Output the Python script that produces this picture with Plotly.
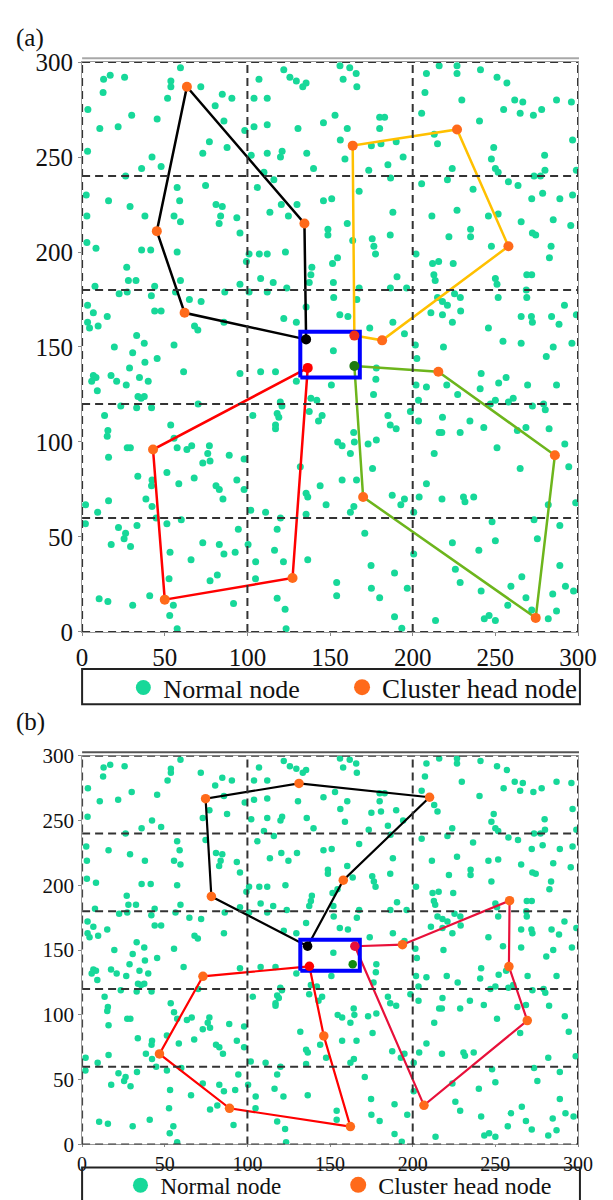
import plotly.graph_objects as go

# ---------------- data ----------------
node_x = [
59.5,53.7,53.7,51.7,13,17,25.7,12.7,3.5,30,10.7,21.8,45.4,71.8,84.8,90.6,80.5,85.8,107,104,112,122,125.7,129.6,133.5,135.5,
98.4,104,112,130.6,77,73,87.7,42.3,47.8,36,26.3,3.3,102.3,112,121,120,135.9,140,110,116,74.7,57.5,106,2.5,16,59,29,38,81,84.8,
83.8,82.9,93.6,55.6,59.5,113.6,120.5,130,124.8,2.9,95.5,2.9,8.4,36,41.5,57.5,101,99.4,107.2,112,123,139,27,28,32.6,43.9,41.9,
7.8,22.4,27.3,59.5,64.9,72,56.5,86.3,95.5,108,115.6,112,123.8,101,137.4,138.4,135.5,3.3,6.8,15.2,43.9,47.8,3.3,4.5,9.7,68,70,
85.8,122,129.6,33,
156,161.9,165.8,157.9,166.2,208.3,207.4,216,226.8,226.8,241,251,257,229.7,261.7,266.6,255,265,273,278,287,296,205.4,240.4,153,146,
180,183,180,160.4,156.2,213,215,175,180.8,190,249,247.6,250,251.7,296.7,279.8,159,185,194.2,173.4,186.6,223.9,221,205.4,236.5,
257.9,263.7,273.4,277.3,280,299,167.6,151,146,272,278.6,289,296.7,188,226.8,211.6,245.8,265.6,251.7,285,295.6,160.4,148.7,148.7,
186.4,175.5,176.5,177.5,163.7,221.9,235,235,247.6,272.4,274.4,283.7,282.7,202,151.5,154.5,212,215.7,224.5,212.8,213.6,190.5,196.3,
152,186.5,167.6,166.2,250,251,251.7,272,269,268.7,269,291.8,152.2,215,218,221,225.3,228.8,229,211,218,224,245.8,265.6,271.8,272.4,
284,288.5,299,155.9,160.8,174,188,195,265.6,
19.5,55.6,30.6,37.6,45.4,38,28.7,6.8,8.4,5.8,9.2,17.5,20.9,26.7,34.7,40,33.8,37.6,35.7,61.4,33,42,23.4,70.2,13.6,53.6,15.6,15.2,
55.6,57.5,63.4,66.3,77,76,89,98,73,77.4,16,27.3,29.2,33.7,51.3,42.3,42,67.8,58.5,81,83,85.2,93.6,98,2.1,16,9.4,38.6,42.3,44.8,
51.3,60,102,111,120,2,22,26.3,33.2,94.5,118,17.6,25.4,29.3,73,83,85.8,92.6,100.4,53.2,65.9,105,116.4,121.8,136.5,52.6,77.4,81.8,
104.9,10.3,15.6,30.6,40.9,55.2,53,91.6,118,122.8,57.5,123.4,132,135.5,136.5,135.5,144,129.6,95.5,108,117,119.9,120.9,118,119,117,
117,103.3,138.4,142,137.4,143,
152,150.8,178,177.7,176.3,201.6,202.5,218.6,254.6,285,280.8,296.3,202,208.3,203.5,220.6,227.2,241.4,240.8,256.5,252,269.5,287,250,
247,257.9,260.8,272.4,279.2,280.2,145.2,185,198.6,203.5,218,186.4,190,234.6,243,216,217.6,228.7,263.3,268.5,282.5,164.3,154.6,157.3,
164.7,173,178,162.3,213,251,292,265,294.4,175.7,157.3,166,208.3,187.6,192.8,195,203.9,217.7,230.7,231.6,236.9,282,298.6,147.6,164.4,
162.3,200.6,248,273.4,289,171,224,250,240,275.4,200.6,174.8,225.8,289,189,266,228.7,259.4,154,154,175,180,196.7,241.4,268.5,284.7,
292.4,297.3,257.5,287,282,189,193.4,213.8,243.3,246.2,250,272,
]
node_y = [
297,290,287,281,291,293,292,284,275,272,265,266,270,287,283,281,277,269,291,281,281,296,292,290,287,289,
264,266,267,265,258,252,255,250,245,244,240,253,251,252,253,250,252,244,242,238,235,234,234,230,227,227,224,219,225,224,
219,215,218,219,216,221,225,225,219,219,210,205,202,201,201,200,199,195,199,199,200,192,192,185,185,182,177,
182,178,179,185,175,174,179,179,183,186,184,179,181,179,184,188,171,172,168,166,169,169,163,160,161,161,159,
163,165,163,156,
298,297,294,291,287,294,284,298,298,294,296,292,289,280,280,279,275,273,272,275,280,279,273,269,272,268,
271,271,265,265,259,262,257,256,257,258,255,249,244,242,259,251,249,246,250,243,239,244,238,236,233,
237,235,240,240,243,243,232,228,227,228,231,228,230,221,222,219,219,216,220,217,214,215,212,209,
209,207,203,199,206,208,212,208,203,210,209,203,197,199,194,197,194,195,194,188,185,187,181,
184,181,181,175,186,183,176,188,188,180,176,172,176,176,174,172,178,176,169,168,167,163,160,166,166,163,
166,162,167,167,166,160,163,157,152,
150,151,147,152,144,142,139,135,134,132,127,135,132,130,134,132,124,124,123,137,118,118,119,120,114,109,106,103,
102,97,96,98,98,94,93,91,89,90,92,97,97,82,84,80,77,81,78,77,75,70,80,75,67,69,63,70,66,60,
57,59,64,63,60,57,55,52,56,54,54,46,49,45,47,46,41,42,46,42,38,37,43,37,38,28,27,30,
28,17.5,16,14,19,14,8.6,15,17.7,12,1.7,1.7,87,73,71,62,77,132,136,137,137,121,119,115,113,109,
107,114,123,122,116,111,
148,130,139,133,125,151,144,150,153,150,145,152,130,129,122,130,125,136,128,134,131,130,130,122,
120,121,123,119,120,117,114,114,116,111,113,109,107,111,107.6,105,105,105,106,107.6,107,105,100,98,
100,99,101,94,94,97,99,86,87,86,80,80,78,72,67,70,71,70,71,68.5,71,67,68,67,66,
63,63,58,59,56,52,47,48,43,49,41,35,33,35,31,29,26,24,26,19,23,18,23,21.5,18,20,
24,21.5,14,11,7,8,2,6,7,8.6,6,11.5,
]

# panel (a) clusters: first vertex is the gateway node at the centre box
a_black_x = [135.5, 62, 45.2, 63.4, 134.5]
a_black_y = [154, 168, 211, 287, 215]
a_red_x = [136.5, 42.9, 50, 127.3]
a_red_y = [139, 96, 17, 28.4]
a_yellow_x = [164.7, 181.5, 257.9, 226.8, 163.7]
a_yellow_y = [156, 153.5, 203, 264.5, 256]
a_green_x = [164.7, 215.5, 286, 274.4, 170]
a_green_y = [140, 137, 93, 7.4, 71]

# panel (b) clusters
b_black_x = [136.4, 78.2, 74.7, 131.2, 210.2, 158]
b_black_y = [153, 191.4, 266.9, 278.7, 268, 204]
b_redl_x = [137.5, 73.1, 46.8, 89.2, 162.3, 146.2]
b_redl_y = [137.5, 129.8, 69.9, 27.9, 13.8, 83.8]
b_redr_x = [165, 193.8, 258.6, 258.2, 269.3, 206.8]
b_redr_y = [153, 154.2, 188.2, 137.3, 95.6, 30.2]
b_extra_x = [163.7]
b_extra_y = [139]

box_x = [132, 168, 168, 132, 132]
box_y = [134, 134, 158, 158, 134]

x_ticks = [0, 50, 100, 150, 200, 250, 300]
y_ticks = [0, 50, 100, 150, 200, 250, 300]
x_grid = [0, 100, 200, 300]
y_grid = [0, 60, 120, 180, 240, 300]
legend_labels = ['Normal node', 'Cluster head node']

TEAL = '#17D899'
ORANGE = '#FF6A1A'
FONT = "'Liberation Serif', 'Times New Roman', Times, 'DejaVu Serif', serif"

fig = go.Figure()

def add_panel(xa, ya, node_size, clusters, extra, legs, lw):
    fig.add_trace(go.Scatter(x=node_x, y=node_y, mode='markers', xaxis=xa, yaxis=ya,
                             marker=dict(color=TEAL, size=node_size, line=dict(width=0)),
                             showlegend=False, hoverinfo='skip'))
    for cx, cy, lc, gc in clusters:
        fig.add_trace(go.Scatter(x=cx + [cx[0]], y=cy + [cy[0]], mode='lines', xaxis=xa, yaxis=ya,
                                 line=dict(color=lc, width=lw), showlegend=False, hoverinfo='skip'))
    fig.add_trace(go.Scatter(x=box_x, y=box_y, mode='lines', xaxis=xa, yaxis=ya,
                             line=dict(color='#0000FF', width=4), showlegend=False, hoverinfo='skip'))
    for cx, cy, lc, gc in clusters:
        fig.add_trace(go.Scatter(x=cx[1:], y=cy[1:], mode='markers', xaxis=xa, yaxis=ya,
                                 marker=dict(color=ORANGE, size=node_size + 3), showlegend=False))
        fig.add_trace(go.Scatter(x=cx[:1], y=cy[:1], mode='markers', xaxis=xa, yaxis=ya,
                                 marker=dict(color=gc, size=node_size + 3), showlegend=False))
    if extra is not None:
        fig.add_trace(go.Scatter(x=extra[0], y=extra[1], mode='markers', xaxis=xa, yaxis=ya,
                                 marker=dict(color='#108A10', size=node_size + 2), showlegend=False))
    fig.add_trace(go.Scatter(x=[None], y=[None], mode='markers', xaxis=xa, yaxis=ya,
                             marker=dict(color=TEAL, size=15), name=legend_labels[0], legend=legs[0]))
    fig.add_trace(go.Scatter(x=[None], y=[None], mode='markers', xaxis=xa, yaxis=ya,
                             marker=dict(color=ORANGE, size=16), name=legend_labels[1], legend=legs[1]))

add_panel('x', 'y', 7,
          [(a_black_x, a_black_y, '#000000', '#000000'),
           (a_red_x, a_red_y, '#FF0000', '#FF0000'),
           (a_yellow_x, a_yellow_y, '#FFC000', '#F0301A'),
           (a_green_x, a_green_y, '#6DB51C', '#1E7A10')],
          None, ('legend', 'legend3'), 2.5)
add_panel('x2', 'y2', 6.5,
          [(b_black_x, b_black_y, '#000000', '#000000'),
           (b_redl_x, b_redl_y, '#FF0000', '#FF0000'),
           (b_redr_x, b_redr_y, '#E8103A', '#E8103A')],
          (b_extra_x, b_extra_y), ('legend2', 'legend4'), 2.2)

W, H = 613, 1200
xdom = [71 / W, 588 / W]
ydom_a = [1 - 625 / H, 1 - 42 / H]
ydom_b = [1 - 1149.3 / H, 1 - 751.7 / H]

def axis(dom, anchor, size, tl):
    return dict(domain=dom, anchor=anchor, range=[0, 300], tickvals=x_ticks, showgrid=False,
                zeroline=False, showline=True, linecolor='#9a9a9a', linewidth=1, mirror=True,
                ticks='outside', ticklen=tl, tickcolor='#888',
                tickfont=dict(family=FONT, size=size, color='#111'))

shapes = []
for xr, yr in (('x', 'y'), ('x2', 'y2')):
    for g in x_grid:
        shapes.append(dict(type='line', xref=xr, yref=yr, x0=g, x1=g, y0=0, y1=300,
                           line=dict(color='#333', width=2, dash='8px,5px')))
    for g in y_grid:
        shapes.append(dict(type='line', xref=xr, yref=yr, x0=0, x1=300, y0=g, y1=g,
                           line=dict(color='#333', width=2, dash='8px,5px')))
# thin frame lines just above each panel
shapes.append(dict(type='line', xref='paper', yref='paper', x0=71 / W, x1=589 / W,
                   y0=1 - 38 / H, y1=1 - 38 / H, line=dict(color='#a8a8a8', width=2)))
shapes.append(dict(type='line', xref='paper', yref='paper', x0=71 / W, x1=589 / W,
                   y0=1 - 748 / H, y1=1 - 748 / H, line=dict(color='#555', width=2)))
# legend frames
shapes.append(dict(type='rect', xref='paper', yref='paper', x0=71 / W, x1=590 / W,
                   y0=1 - 699 / H, y1=1 - 663 / H, line=dict(color='#222', width=2)))
shapes.append(dict(type='rect', xref='paper', yref='paper', x0=71 / W, x1=590 / W,
                   y0=1 - 1210 / H, y1=1 - 1173 / H, line=dict(color='#222', width=2)))

def leg(size, marker_px, y_px):
    return dict(orientation='h', xanchor='left', yanchor='middle', bgcolor='rgba(0,0,0,0)',
                borderwidth=0, font=dict(family=FONT, size=size, color='#111'),
                itemsizing='trace', x=(marker_px - 29) / W, y=1 - y_px / H)

fig.update_layout(
    width=W, height=H, margin=dict(l=0, r=0, t=0, b=0),
    paper_bgcolor='white', plot_bgcolor='white',
    xaxis=axis(xdom, 'y', 25, 3), yaxis=axis(ydom_a, 'x', 25, 3),
    xaxis2=axis(xdom, 'y2', 20, 2), yaxis2=axis(ydom_b, 'x2', 21, 3),
    shapes=shapes,
    legend=leg(26, 143, 682),
    legend3=leg(27, 371, 682),
    legend2=leg(23, 140, 1191),
    legend4=leg(24, 367, 1191),
    annotations=[
        dict(text='(a)', xref='paper', yref='paper', x=0, y=1 - 17 / H, xanchor='left',
             yanchor='middle', showarrow=False, font=dict(family=FONT, size=25, color='#111')),
        dict(text='(b)', xref='paper', yref='paper', x=0, y=1 - 717 / H, xanchor='left',
             yanchor='middle', showarrow=False, font=dict(family=FONT, size=25, color='#111')),
    ],
)
fig.update_yaxes(tickvals=y_ticks)

fig.write_html('out.html')
